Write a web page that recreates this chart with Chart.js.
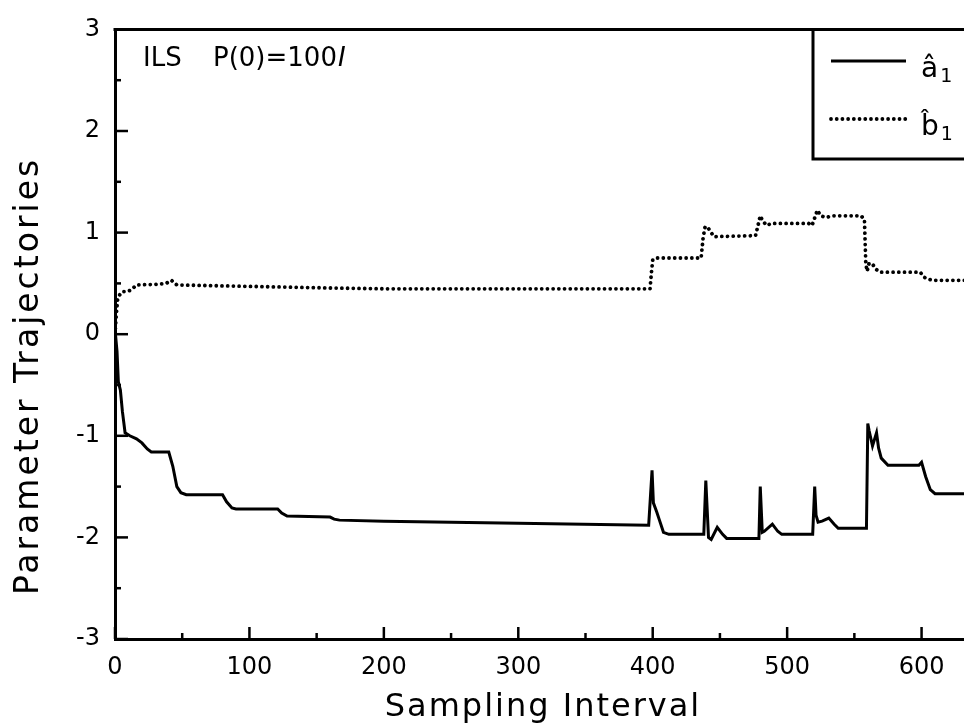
<!DOCTYPE html>
<html>
<head>
<meta charset="utf-8">
<script src="https://cdn.jsdelivr.net/npm/chart.js@4.4.0/dist/chart.umd.min.js"></script>
<style>
  html, body { margin: 0; padding: 0; background: #fff; overflow: hidden; }
  #wrap { width: 964px; height: 725px; overflow: hidden; }
</style>
</head>
<body>
<div id="wrap"><canvas id="traj" width="1070" height="725"></canvas></div>
<script>
// a1 trajectory (sampling interval, value)
const sampleA = [0, 1.5, 2.5, 4, 5.5, 7.5, 11, 16, 20, 24, 27, 40, 43, 46, 49, 53, 80, 83, 87, 90,
    121, 124, 128, 160, 163, 167, 200, 300, 397, 399.5, 400.5, 403, 405, 408, 412, 438, 439.5, 441.5,
    443.5, 448, 452, 455, 479, 480, 481.5, 483, 489, 493, 496, 519, 520.5, 521.5, 523, 526, 531, 535,
    538, 559, 560, 561, 563.5, 566.5, 568, 570, 575, 598, 600, 603, 606.5, 610, 640];
const a1Values = [0.05, -0.17, -0.47, -0.55, -0.76, -0.97, -1.0, -1.03, -1.07, -1.13, -1.16, -1.16, -1.3, -1.5, -1.56, -1.58, -1.58, -1.65, -1.71, -1.72,
    -1.72, -1.76, -1.79, -1.8, -1.82, -1.83, -1.84, -1.86, -1.88, -1.34, -1.66, -1.75, -1.83, -1.95, -1.97, -1.97, -1.44, -2.0,
    -2.02, -1.9, -1.97, -2.01, -2.01, -1.5, -1.95, -1.94, -1.87, -1.94, -1.97, -1.97, -1.5, -1.78, -1.85, -1.84, -1.81, -1.87,
    -1.91, -1.91, -0.88, -0.95, -1.1, -0.97, -1.12, -1.22, -1.29, -1.29, -1.26, -1.4, -1.53, -1.57, -1.57];

// b1 trajectory
const sampleB = [0, 1, 2, 4, 6, 9, 11, 14, 16, 30, 38, 42, 46, 83, 160, 200, 398, 399, 400, 402,
    436, 437.5, 439, 441, 445.5, 476.5, 478.5, 480, 482, 485, 488, 491, 516, 518.5, 522.5, 525, 528.5,
    534.5, 555, 557.5, 558.5, 559.5, 561, 564, 566, 569, 599, 602, 605, 610, 640];
const b1Values = [0.0, 0.2, 0.35, 0.4, 0.42, 0.42, 0.43, 0.46, 0.485, 0.49, 0.5, 0.53, 0.485, 0.475, 0.455, 0.447, 0.447, 0.6, 0.73, 0.75,
    0.75, 0.95, 1.06, 1.05, 0.96, 0.97, 1.08, 1.165, 1.11, 1.07, 1.09, 1.09, 1.09, 1.07, 1.22, 1.165, 1.15,
    1.165, 1.165, 1.13, 0.7, 0.62, 0.7, 0.68, 0.64, 0.61, 0.61, 0.56, 0.54, 0.53, 0.53];

const xLabelsShown = [0, 100, 200, 300, 400, 500, 600];
const yLabelsShown = [-3, -2, -1, 0, 1, 2, 3];
const seriesNames = ['â', 'b\u0302'];

const FONT = "'DejaVu Sans', sans-serif";

const toPoints = (xs, ys) => xs.map((x, i) => ({ x: x, y: ys[i] }));

// frame, inward ticks, legend box and axis titles
const framePlugin = {
    id: 'frame',
    afterDatasetsDraw(chart) {
        const { ctx, chartArea: area, scales: { x, y } } = chart;
        ctx.save();
        ctx.strokeStyle = '#000';
        ctx.fillStyle = '#000';
        ctx.lineCap = 'butt';

        // top border
        ctx.lineWidth = 3;
        ctx.beginPath();
        ctx.moveTo(area.left - 1.5, area.top);
        ctx.lineTo(area.right, area.top);
        ctx.stroke();

        // ticks pointing inside
        ctx.lineWidth = 2.5;
        y.ticks.forEach(t => {
            const py = y.getPixelForValue(t.value);
            const len = Number.isInteger(t.value) ? 13 : 6;
            ctx.beginPath();
            ctx.moveTo(area.left, py);
            ctx.lineTo(area.left + len, py);
            ctx.stroke();
        });
        x.ticks.forEach(t => {
            const px = x.getPixelForValue(t.value);
            const len = t.value % 100 === 0 ? 12 : 6;
            ctx.beginPath();
            ctx.moveTo(px, area.bottom);
            ctx.lineTo(px, area.bottom - len);
            ctx.stroke();
        });

        // legend box
        const boxLeft = 813, boxBottom = 159;
        ctx.lineWidth = 3;
        ctx.beginPath();
        ctx.moveTo(boxLeft, area.top);
        ctx.lineTo(boxLeft, boxBottom);
        ctx.lineTo(area.right, boxBottom);
        ctx.stroke();

        const rows = [61, 119];
        chart.data.datasets.forEach((ds, i) => {
            ctx.save();
            ctx.lineWidth = ds.borderWidth;
            ctx.lineCap = ds.borderCapStyle || 'butt';
            ctx.setLineDash(ds.borderDash || []);
            ctx.beginPath();
            ctx.moveTo(831, rows[i]);
            ctx.lineTo(906, rows[i]);
            ctx.stroke();
            ctx.restore();

            ctx.font = '28px ' + FONT;
            ctx.textBaseline = 'alphabetic';
            ctx.textAlign = 'left';
            ctx.fillText(seriesNames[i], 921, rows[i] + 16);
            const w = ctx.measureText(seriesNames[i]).width;
            ctx.font = '19px ' + FONT;
            ctx.fillText('1', 921 + w + 2, rows[i] + 21);
        });

        // annotation
        ctx.font = '26px ' + FONT;
        ctx.textAlign = 'left';
        ctx.fillText('ILS', 143, 66);
        const main = 'P(0)=100';
        ctx.fillText(main, 213, 66);
        const mw = ctx.measureText(main).width;
        ctx.font = 'italic 26px ' + FONT;
        ctx.fillText('I', 213 + mw + 1, 66);

        // axis titles
        ctx.font = '32px ' + FONT;
        ctx.letterSpacing = '2px';
        ctx.textAlign = 'center';
        ctx.textBaseline = 'alphabetic';
        ctx.fillText('Sampling Interval', 543, 716);

        ctx.font = '33px ' + FONT;
        ctx.letterSpacing = '3px';
        ctx.translate(38, 376);
        ctx.rotate(-Math.PI / 2);
        ctx.fillText('Parameter Trajectories', 0, 0);
        ctx.restore();
    }
};

new Chart(document.getElementById('traj'), {
    type: 'line',
    data: {
        datasets: [{
            label: 'a1',
            data: toPoints(sampleA, a1Values),
            borderColor: '#000',
            borderWidth: 3,
            pointRadius: 0,
            tension: 0,
            order: 0
        }, {
            label: 'b1',
            data: toPoints(sampleB, b1Values),
            borderColor: '#000',
            borderWidth: 3.8,
            borderDash: [0.01, 5.7],
            borderCapStyle: 'round',
            pointRadius: 0,
            tension: 0,
            order: 1
        }]
    },
    options: {
        responsive: false,
        animation: false,
        devicePixelRatio: 1,
        layout: { padding: { left: 0, top: 23, right: 12, bottom: 0 } },
        plugins: {
            legend: { display: false },
            tooltip: { enabled: false }
        },
        scales: {
            x: {
                type: 'linear',
                min: 0,
                max: 700,
                grid: { display: false, drawTicks: false },
                border: { display: true, width: 3, color: '#000' },
                ticks: {
                    stepSize: 50,
                    autoSkip: false,
                    maxRotation: 0,
                    padding: 14,
                    color: '#000',
                    font: { family: FONT, size: 24 },
                    callback: v => xLabelsShown.includes(v) ? String(v) : ''
                },
                afterFit: scale => { scale.height = 86; }
            },
            y: {
                min: -3,
                max: 3,
                grid: { display: false, drawTicks: false },
                border: { display: true, width: 3, color: '#000' },
                ticks: {
                    stepSize: 0.5,
                    autoSkip: false,
                    padding: 15,
                    color: '#000',
                    font: { family: FONT, size: 24 },
                    callback: v => yLabelsShown.includes(v) ? String(v) : ''
                },
                afterFit: scale => { scale.width = 115; }
            }
        }
    },
    plugins: [framePlugin]
});
</script>
</body>
</html>
